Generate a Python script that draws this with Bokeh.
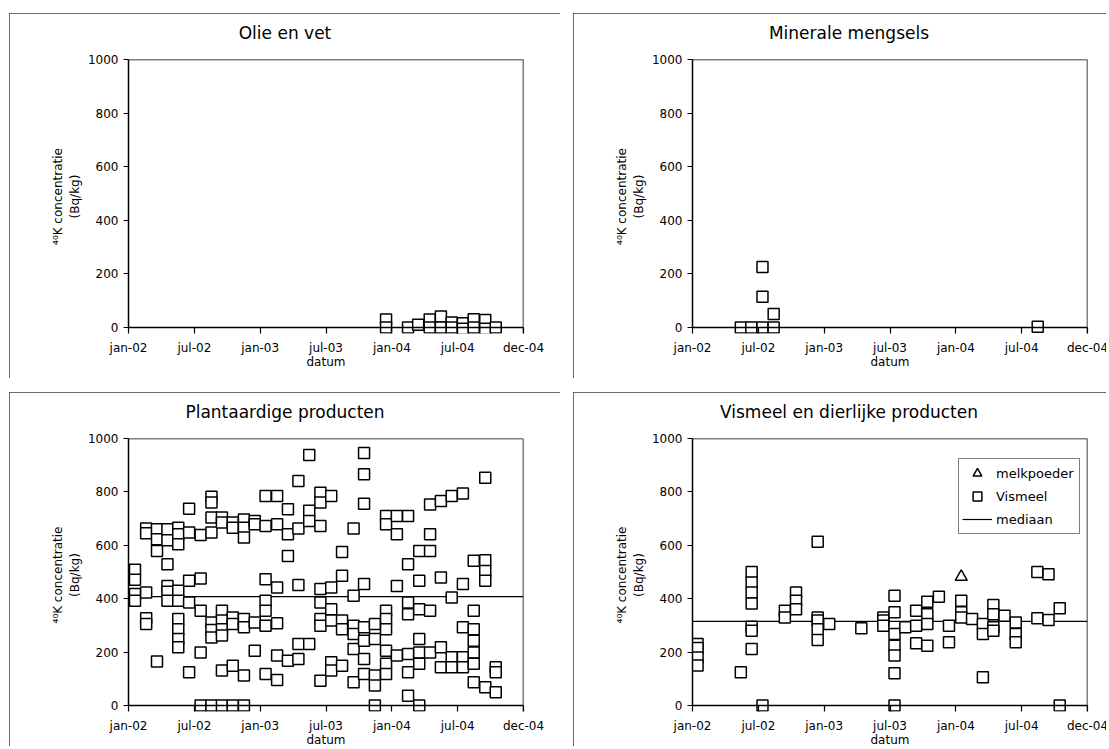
from bokeh.plotting import figure
from bokeh.models import Range1d, FixedTicker, Span, Label, Legend, LegendItem, Spacer
from bokeh.layouts import row, column
from bokeh.embed import file_html
from bokeh.resources import INLINE
import pandas as pd

FONT = "DejaVu Sans"

# ---------------- data ----------------
axis_start = "2002-01-01"
axis_end = "2004-12-31"
x_tick_labels = ["jan-02", "jul-02", "jan-03", "jul-03", "jan-04", "jul-04", "dec-04"]
y_ticks = [0, 200, 400, 600, 800, 1000]

olie_dates = ["2003-12-16", "2004-02-15", "2004-03-14", "2004-04-15", "2004-05-16",
              "2004-06-15", "2004-07-16", "2004-08-15", "2004-09-16", "2004-10-15"]
olie_values = [[30, 0], [0], [10], [30, 0], [41, 0], [19, 0], [16, -5], [31, 0], [28, -5], [0]]

mineraal_dates = ["2002-05-15", "2002-06-13", "2002-07-14", "2002-08-14", "2004-08-15"]
mineraal_values = [[0], [0], [0, 115, 226], [0, 50], [3]]

plant_dates = ["2002-01-19", "2002-02-19", "2002-03-21", "2002-04-19", "2002-05-19", "2002-06-18",
               "2002-07-20", "2002-08-19", "2002-09-17", "2002-10-17", "2002-11-17", "2002-12-17",
               "2003-01-16", "2003-02-17", "2003-03-19", "2003-04-17", "2003-05-17", "2003-06-17",
               "2003-07-17", "2003-08-16", "2003-09-17", "2003-10-16", "2003-11-15", "2003-12-16",
               "2004-01-15", "2004-02-15", "2004-03-17", "2004-04-16", "2004-05-16", "2004-06-15",
               "2004-07-16", "2004-08-15", "2004-09-16", "2004-10-15"]
plant_values = [
    [508, 471, 418, 392],
    [663, 645, 423, 327, 305],
    [660, 623, 579, 165],
    [660, 619, 529, 448, 426, 392],
    [666, 641, 604, 430, 392, 324, 286, 249, 218],
    [737, 648, 467, 386, 125],
    [639, 476, 355, 199, 0],
    [782, 760, 704, 648, 311, 283, 255, 0],
    [704, 685, 355, 318, 286, 262, 131, 0],
    [685, 666, 330, 305, 149, 0],
    [697, 666, 629, 324, 293, 112, 0],
    [691, 679, 311, 205],
    [785, 672, 473, 392, 355, 299, 118],
    [785, 679, 442, 308, 187, 96],
    [735, 641, 560, 168],
    [841, 663, 451, 230, 174],
    [938, 729, 691, 230],
    [797, 760, 672, 436, 386, 324, 299, 93],
    [785, 442, 361, 318, 162, 131],
    [575, 486, 318, 286, 149],
    [663, 411, 299, 268, 212, 87],
    [946, 866, 756, 455, 293, 243, 174, 118],
    [305, 249, 112, 75, 0],
    [710, 679, 355, 324, 286, 205, 156, 118],
    [710, 641, 448, 187],
    [710, 529, 386, 342, 193, 125, 37],
    [579, 467, 361, 249, 199, 156, 0],
    [753, 641, 579, 355, 199],
    [766, 479, 218, 143],
    [785, 405, 181, 143],
    [794, 455, 293, 181, 143],
    [542, 355, 286, 243, 199, 156, 87],
    [853, 544, 504, 467, 68],
    [143, 125, 50],
]
plant_median = 408

vismeel_dates = ["2002-01-15", "2002-05-15", "2002-06-14", "2002-07-14", "2002-09-14", "2002-10-15",
                 "2002-12-14", "2003-01-15", "2003-04-14", "2003-06-14", "2003-07-15", "2003-08-14",
                 "2003-09-13", "2003-10-14", "2003-11-15", "2003-12-13", "2004-01-16", "2004-02-15",
                 "2004-03-16", "2004-04-14", "2004-05-15", "2004-06-15", "2004-08-14", "2004-09-14",
                 "2004-10-15"]
vismeel_values = [
    [230, 215, 180, 150],
    [125],
    [500, 461, 423, 382, 295, 280, 212],
    [0],
    [355, 330],
    [423, 392, 361],
    [613, 330, 318, 286, 245],
    [305],
    [289],
    [330, 318, 299],
    [411, 349, 268, 224, 187, 121, 0],
    [293],
    [355, 299, 233],
    [389, 342, 305, 224],
    [407],
    [299, 237],
    [392, 349, 330],
    [324],
    [305, 268, 106],
    [376, 342, 293, 280],
    [336],
    [311, 268, 237],
    [500, 327],
    [492, 320],
    [364, 0],
]
melkpoeder_dates = ["2004-01-16"]
melkpoeder_values = [482]
vismeel_median = 315

# ---------------- helpers ----------------
def ms(d):
    return pd.Timestamp(d).value // 10**6

X0, X1 = ms(axis_start), ms(axis_end)
n = len(x_tick_labels) - 1
x_ticks = [X0 + (X1 - X0) * i // n for i in range(n + 1)]

def expand(dates, values):
    xs, ys = [], []
    for d, vals in zip(dates, values):
        for v in vals:
            xs.append(ms(d))
            ys.append(v)
    return xs, ys

FRAME_W, FRAME_H, EXT_PX = 395, 274, 6
LEFT, TOP = 119, 46
Y0 = -EXT_PX / (FRAME_H - EXT_PX) * 1000


def make_panel(title, w, h, clip="0 0 0 0"):
    p = figure(width=w, height=h, output_backend="svg", toolbar_location=None,
               x_range=Range1d(X0, X1), y_range=Range1d(Y0, 1000),
               min_border_left=LEFT, min_border_right=w - LEFT - FRAME_W,
               min_border_top=TOP, min_border_bottom=h - TOP - FRAME_H,
               outline_line_color=None, background_fill_color="white",
               border_fill_color="white")
    p.styles = {"outline": "1.5px solid #3a3a3a", "outline-offset": "-1.5px",
                "clip-path": f"inset({clip})"}
    p.grid.visible = False

    ya = p.yaxis[0]
    ya.ticker = FixedTicker(ticks=y_ticks)
    ya.bounds = (0, 1000)
    ya.major_tick_out = 5
    ya.major_tick_in = 0
    ya.minor_tick_line_color = None
    ya.axis_line_width = 1.5
    ya.major_tick_line_width = 1.2
    ya.major_label_text_font = FONT
    ya.major_label_text_font_size = "12px"
    ya.major_label_text_color = "black"
    ya.major_label_standoff = 5
    ya.axis_label = "⁴⁰K concentratie\n(Bq/kg)"
    ya.axis_label_text_font = FONT
    ya.axis_label_text_font_size = "12px"
    ya.axis_label_text_font_style = "normal"
    ya.axis_label_text_color = "black"
    ya.axis_label_standoff = 3

    xa = p.xaxis[0]
    xa.ticker = FixedTicker(ticks=x_ticks)
    xa.major_label_overrides = dict(zip(x_ticks, x_tick_labels))
    xa.axis_line_color = None
    xa.major_tick_in = EXT_PX
    xa.major_tick_out = 0
    xa.major_tick_line_width = 1.2
    xa.minor_tick_line_color = None
    xa.major_label_text_font = FONT
    xa.major_label_text_font_size = "12px"
    xa.major_label_text_color = "black"
    xa.major_label_standoff = 7
    xa.axis_label = "datum"
    xa.axis_label_text_font = FONT
    xa.axis_label_text_font_size = "12px"
    xa.axis_label_text_font_style = "normal"
    xa.axis_label_text_color = "black"
    xa.axis_label_standoff = -3

    p.add_layout(Span(location=0, dimension="width", line_color="black", line_width=1.5))
    p.add_layout(Span(location=1000, dimension="width", line_color="black", line_width=1.5))
    p.add_layout(Span(location=X1, dimension="height", line_color="black", line_width=1.5))

    p.add_layout(Label(x=156.5, y=27, x_units="screen", y_units="screen",
                       text=title, text_align="center", text_baseline="middle",
                       text_font=FONT, text_font_size="17px", text_color="black"), "above")
    return p


def squares(p, dates, values):
    xs, ys = expand(dates, values)
    return p.scatter(xs, ys, marker="square", size=11, fill_color="white",
                     line_color="black", line_width=1.5)


W1, W2, H1, H2 = 551, 536, 365, 357

p1 = make_panel("Olie en vet", W1, H1)
squares(p1, olie_dates, olie_values)

p2 = make_panel("Minerale mengsels", W2, H1, clip="0 3px 0 0")
squares(p2, mineraal_dates, mineraal_values)

p3 = make_panel("Plantaardige producten", W1, H2, clip="0 0 3px 0")
p3.line([X0, X1], [plant_median, plant_median], line_color="black", line_width=1.2)
squares(p3, plant_dates, plant_values)

p4 = make_panel("Vismeel en dierlijke producten", W2, H2, clip="0 3px 3px 0")
med = p4.line([X0, X1], [vismeel_median, vismeel_median], line_color="black", line_width=1.2)
sq = squares(p4, vismeel_dates, vismeel_values)
mx, my = expand(melkpoeder_dates, [[v] for v in melkpoeder_values])
tri = p4.scatter(mx, my, marker="triangle", size=12, fill_color="white",
                 line_color="black", line_width=1.5)
legend = Legend(items=[LegendItem(label="melkpoeder", renderers=[tri]),
                       LegendItem(label="Vismeel", renderers=[sq]),
                       LegendItem(label="mediaan", renderers=[med])],
                location=(266, 177))
legend.border_line_color = "black"
legend.border_line_width = 1.2
legend.background_fill_color = "white"
legend.background_fill_alpha = 1
legend.glyph_width = 30
legend.glyph_height = 22
legend.label_height = 22
legend.label_width = 80
legend.spacing = 1
legend.padding = 3
legend.margin = 0
legend.label_standoff = 4
legend.label_text_font = FONT
legend.label_text_font_size = "13px"
legend.label_text_color = "black"
p4.add_layout(legend)

layout = column(Spacer(height=13),
                row(Spacer(width=9), p1, Spacer(width=13), p2),
                Spacer(height=14),
                row(Spacer(width=9), p3, Spacer(width=13), p4))

open("out.html", "w").write(file_html(layout, INLINE))
